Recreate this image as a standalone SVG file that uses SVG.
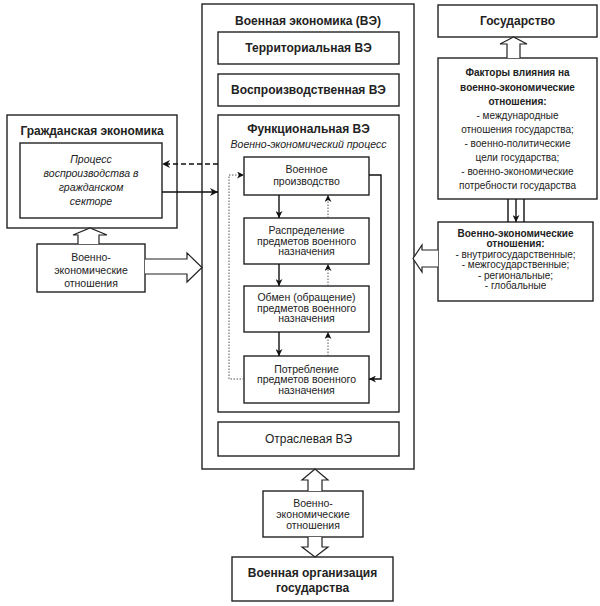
<svg xmlns="http://www.w3.org/2000/svg" width="600" height="606" viewBox="0 0 600 606">
<defs>
<marker id="ah" viewBox="0 0 10 10" refX="10" refY="5" markerWidth="7" markerHeight="7" markerUnits="userSpaceOnUse" orient="auto"><path d="M0,0 L10,5 L0,10 L3,5 Z" fill="#111"/></marker>
<marker id="ahs" viewBox="0 0 10 10" refX="10" refY="5" markerWidth="8" markerHeight="8" markerUnits="userSpaceOnUse" orient="auto"><path d="M0,0 L10,5 L0,10 L3,5 Z" fill="#111"/></marker>
</defs>
<style>
rect{fill:#fff;stroke:#222;stroke-width:1.4}
text{font-family:"Liberation Sans",Arial,sans-serif;fill:#222;text-anchor:middle}
.b{font-weight:bold;font-size:12px}
.r{font-size:12px}
.s{font-size:10.5px}
.i{font-size:10.5px;font-style:italic}
.f{font-size:10px}
.fb{font-size:10px;font-weight:bold}
.ln{fill:none;stroke:#111;stroke-width:1.4}
.dot{fill:none;stroke:#555;stroke-width:1;stroke-dasharray:1.5 1.5}
.dash{fill:none;stroke:#111;stroke-width:1.4;stroke-dasharray:5 3}
.ha{fill:#fff;stroke:#222;stroke-width:1.2}
</style>
<rect width="600" height="606" style="fill:#fff;stroke:none"/>

<g id="ve">
<rect x="202" y="4" width="212" height="465"/>
<text class="b" x="308" y="25">Военная экономика (ВЭ)</text>
</g>
<g id="terr"><rect x="218" y="32" width="181" height="32"/><text class="b" x="308.5" y="52">Территориальная ВЭ</text></g>
<g id="vospr"><rect x="218" y="74" width="181" height="32"/><text class="b" x="308.5" y="94">Воспроизводственная ВЭ</text></g>
<g id="func"><rect x="218" y="115" width="181" height="297"/>
<text class="b" x="308.5" y="133">Функциональная ВЭ</text>
<text class="i" x="308.5" y="148">Военно-экономический процесс</text></g>
<g id="proizv"><rect x="244" y="157" width="125" height="38"/>
<text class="s" x="306.5" y="172.5">Военное</text><text class="s" x="306.5" y="184.5">производство</text></g>
<g id="raspr"><rect x="244" y="218" width="125" height="46"/>
<text class="s" x="306.5" y="234">Распределение</text><text class="s" x="306.5" y="244.5">предметов военного</text><text class="s" x="306.5" y="255">назначения</text></g>
<g id="obmen"><rect x="244" y="286" width="125" height="46"/>
<text class="s" x="306.5" y="301">Обмен (обращение)</text><text class="s" x="306.5" y="311.5">предметов военного</text><text class="s" x="306.5" y="322">назначения</text></g>
<g id="potr"><rect x="244" y="356" width="125" height="47"/>
<text class="s" x="306.5" y="372.5">Потребление</text><text class="s" x="306.5" y="383">предметов военного</text><text class="s" x="306.5" y="393.5">назначения</text></g>
<g id="otrasl"><rect x="218" y="422" width="181" height="34"/><text class="r" x="308.5" y="443">Отраслевая ВЭ</text></g>

<g id="grazhd"><rect x="7" y="115" width="170" height="113"/>
<text class="b" x="92" y="135">Гражданская экономика</text></g>
<g id="process"><rect x="20" y="143" width="142" height="75"/>
<text class="i" x="91" y="163">Процесс</text><text class="i" x="91" y="177">воспроизводства в</text><text class="i" x="91" y="191">гражданском</text><text class="i" x="91" y="205">секторе</text></g>
<g id="veo-left"><rect x="37" y="244" width="108" height="48"/>
<text class="s" x="91" y="261">Военно-</text><text class="s" x="91" y="274">экономические</text><text class="s" x="91" y="287">отношения</text></g>

<g id="gos"><rect x="438" y="5" width="159" height="32"/><text class="b" x="517.5" y="25">Государство</text></g>
<g id="factors"><rect x="438" y="58" width="159" height="141"/>
<text class="fb" x="517.5" y="76">Факторы влияния на</text>
<text class="fb" x="517.5" y="90.5">военно-экономические</text>
<text class="fb" x="517.5" y="104.5">отношения:</text>
<text class="f" x="517.5" y="118.5">- международные</text>
<text class="f" x="517.5" y="132.5">отношения государства;</text>
<text class="f" x="517.5" y="146.5">- военно-политические</text>
<text class="f" x="517.5" y="160.5">цели государства;</text>
<text class="f" x="517.5" y="175">- военно-экономические</text>
<text class="f" x="517.5" y="189">потребности государства</text></g>
<g id="veo-right"><rect x="438" y="222" width="155" height="79"/>
<text class="fb" x="515.5" y="237">Военно-экономические</text>
<text class="fb" x="515.5" y="247">отношения:</text>
<text class="f" x="515.5" y="257.5">- внутригосударственные;</text>
<text class="f" x="515.5" y="268">- межгосударственные;</text>
<text class="f" x="515.5" y="278.5">- региональные;</text>
<text class="f" x="515.5" y="289">- глобальные</text></g>

<g id="veo-bottom"><rect x="263" y="491" width="100" height="46"/>
<text class="s" x="313" y="507">Военно-</text><text class="s" x="313" y="518">экономические</text><text class="s" x="313" y="529">отношения</text></g>
<g id="voen-org"><rect x="232" y="557" width="161" height="44"/>
<text class="b" x="312.5" y="577">Военная организация</text><text class="b" x="312.5" y="592">государства</text></g>

<g id="connectors">
<path class="ln" d="M279,195 V218" marker-end="url(#ah)"/>
<path class="ln" d="M279,264 V286" marker-end="url(#ah)"/>
<path class="ln" d="M279,332 V356" marker-end="url(#ah)"/>
<path class="dot" d="M328,218 V195" marker-end="url(#ah)"/>
<path class="dot" d="M328,286 V264" marker-end="url(#ah)"/>
<path class="dot" d="M328,356 V332" marker-end="url(#ah)"/>
<path class="ln" d="M369,175 H381 V379 H369" marker-end="url(#ah)"/>
<path class="dot" d="M244,379 H229 V175 H244" marker-end="url(#ah)"/>
<path class="dash" d="M218,164 H162" marker-end="url(#ahs)"/>
<path class="ln" d="M162,192 H218" marker-end="url(#ahs)"/>
<path class="ha" d="M78,244 V235 H73 L90,228 L107,235 H99 V244"/>
<path class="ha" d="M145,259 H187 V253 L202,267.5 L187,282 V274 H145"/>
<path class="ha" d="M507,58 V44 H500 L513.5,37 L527,44 H520 V58"/>
<path class="ln" d="M508,199 V222 M524,199 V222"/>
<path class="ln" d="M516,199 V222" marker-end="url(#ah)"/>
<path class="ha" d="M438,250 H422 V245 L413,258.5 L422,272 V267 H438"/>
<path class="ha" d="M308,491 V480 H302 L315,469 L328,480 H322 V491"/>
<path class="ha" d="M308,537 V547 H302 L315,557 L328,547 H322 V537"/>
</g>
</svg>
